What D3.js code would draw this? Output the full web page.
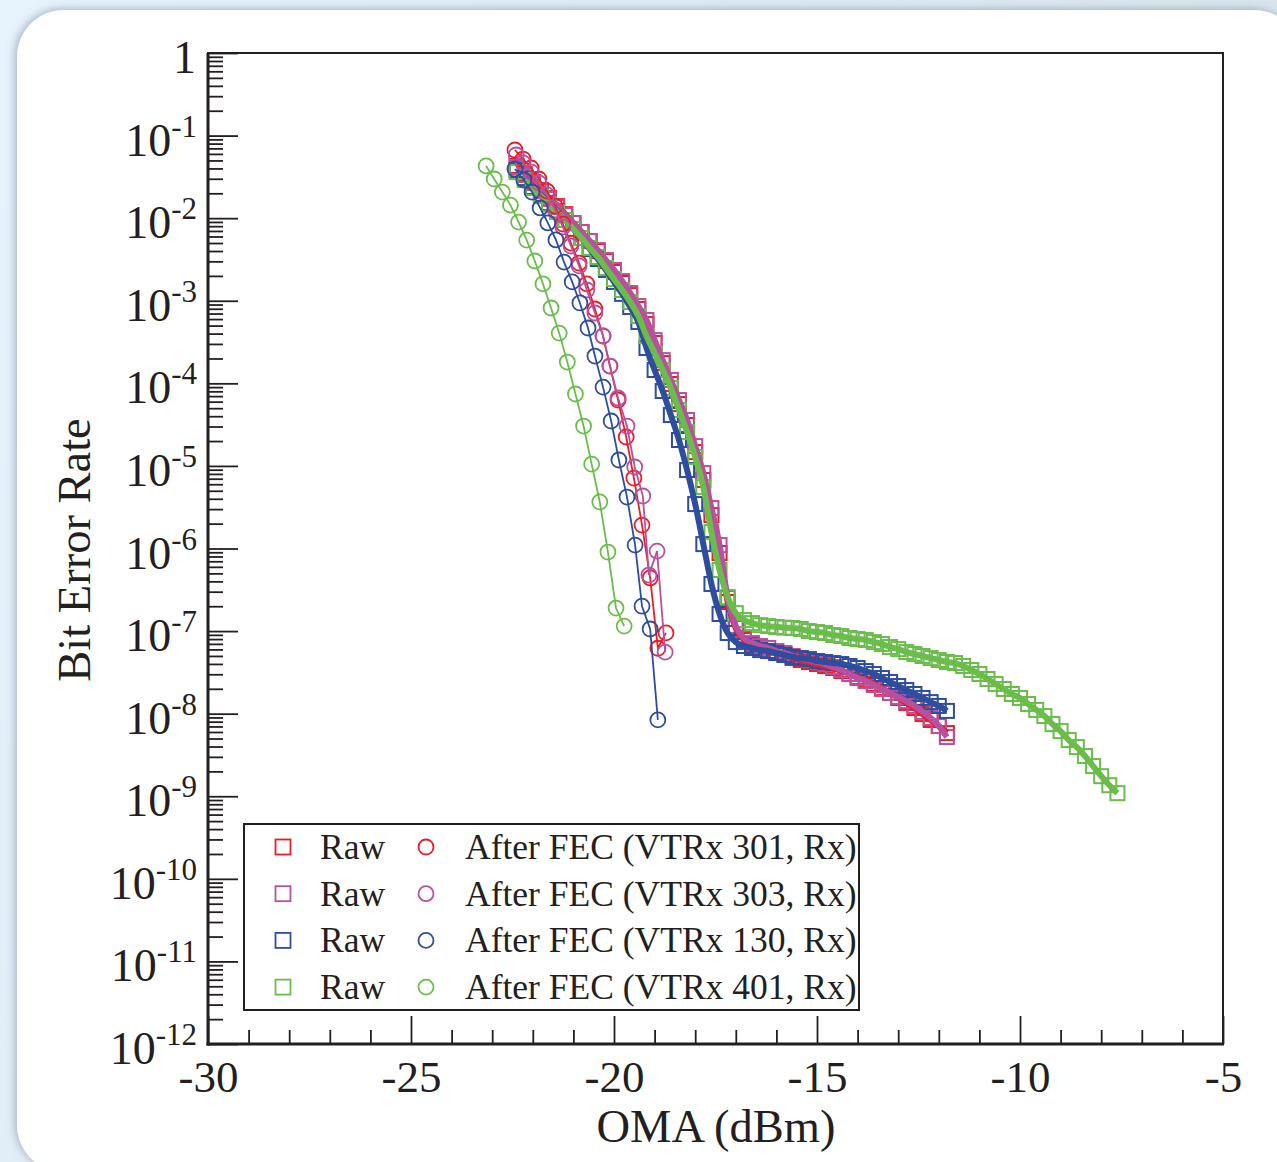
<!DOCTYPE html>
<html><head><meta charset="utf-8">
<script src="https://cdn.jsdelivr.net/npm/d3@7"></script>
<style>
html,body{margin:0;padding:0;background:#e3eef7;}
svg{display:block;font-family:"Liberation Serif","Times New Roman",serif;}
</style>
</head><body>
<svg id="chart" width="1277" height="1162"></svg>
<script>
// ---------------- data ----------------
const rawOMA = [-22.4,-22.2,-22.0,-21.8,-21.6,-21.4,-21.2,-21.0,-20.8,-20.6,-20.4,-20.2,-20.0,-19.8,-19.6,-19.4,-19.2,-19.0,-18.8,-18.6,-18.4,-18.2,-18.0,-17.8,-17.6,-17.4,-17.2,-17.0,-16.8,-16.6,-16.4,-16.2,-16.0,-15.8,-15.6,-15.4,-15.2,-15.0,-14.8,-14.6,-14.4,-14.2,-14.0,-13.8,-13.6,-13.4,-13.2,-13.0,-12.8,-12.6,-12.4,-12.2,-12.0,-11.8,-11.6,-11.4,-11.2,-11.0,-10.8,-10.6,-10.4,-10.2,-10.0,-9.8,-9.6,-9.4,-9.2,-9.0,-8.8,-8.6,-8.4,-8.2,-8.0,-7.8,-7.6];

const raw301 = [4.29e-2,3.43e-2,2.74e-2,2.19e-2,1.75e-2,1.40e-2,1.12e-2,8.73e-3,6.79e-3,5.28e-3,4.00e-3,3.03e-3,2.23e-3,1.64e-3,1.17e-3,7.94e-4,5.22e-4,3.08e-4,1.76e-4,9.82e-5,5.61e-5,3.13e-5,1.47e-5,6.75e-6,2.54e-6,8.81e-7,2.25e-7,1.09e-7,7.79e-8,6.78e-8,6.24e-8,5.73e-8,5.42e-8,5.13e-8,4.71e-8,4.46e-8,4.22e-8,3.99e-8,3.78e-8,3.57e-8,3.28e-8,3.02e-8,2.77e-8,2.55e-8,2.29e-8,2.04e-8,1.78e-8,1.55e-8,1.35e-8,1.17e-8,9.89e-9,8.38e-9,7.08e-9,5.82e-9];

const raw303 = [4.16e-2,3.33e-2,2.67e-2,2.13e-2,1.71e-2,1.36e-2,1.09e-2,8.73e-3,6.79e-3,5.28e-3,4.11e-3,3.11e-3,2.36e-3,1.73e-3,1.24e-3,8.63e-4,5.85e-4,3.34e-4,1.91e-4,1.10e-4,6.28e-5,3.60e-5,1.74e-5,8.20e-6,3.09e-6,1.10e-6,2.51e-7,1.15e-7,8.24e-8,7.16e-8,6.59e-8,6.24e-8,5.73e-8,5.42e-8,4.99e-8,4.71e-8,4.46e-8,4.22e-8,3.99e-8,3.67e-8,3.38e-8,3.02e-8,2.70e-8,2.48e-8,2.22e-8,1.99e-8,1.78e-8,1.59e-8,1.42e-8,1.24e-8,1.05e-8,8.85e-9,7.08e-9,5.21e-9];

const raw130 = [3.83e-2,3.06e-2,2.38e-2,1.91e-2,1.52e-2,1.22e-2,9.5e-3,7.4e-3,5.75e-3,4.23e-3,3.20e-3,2.36e-3,1.69e-3,1.21e-3,8.39e-4,5.52e-4,2.68e-4,1.45e-4,8.07e-5,4.13e-5,2.06e-5,8.91e-6,3.45e-6,1.13e-6,3.72e-7,1.61e-7,9.47e-8,7.36e-8,6.59e-8,6.24e-8,5.89e-8,5.73e-8,5.42e-8,5.13e-8,4.85e-8,4.71e-8,4.58e-8,4.34e-8,4.22e-8,4.10e-8,3.99e-8,3.78e-8,3.57e-8,3.28e-8,3.02e-8,2.70e-8,2.42e-8,2.16e-8,1.93e-8,1.73e-8,1.55e-8,1.38e-8,1.24e-8,1.08e-8];

const raw401 = [3.62e-2,2.90e-2,2.32e-2,1.85e-2,1.48e-2,1.19e-2,9.5e-3,7.4e-3,5.75e-3,4.36e-3,3.39e-3,2.49e-3,1.83e-3,1.35e-3,9.66e-4,6.53e-4,3.74e-4,2.33e-4,1.45e-4,8.77e-5,4.75e-5,2.57e-5,1.28e-5,5.55e-6,1.58e-6,5.48e-7,2.58e-7,1.65e-7,1.36e-7,1.25e-7,1.18e-7,1.15e-7,1.12e-7,1.10e-7,1.09e-7,1.06e-7,1.00e-7,9.73e-8,9.47e-8,8.95e-8,8.71e-8,8.24e-8,8.01e-8,7.79e-8,7.36e-8,6.97e-8,6.41e-8,6.05e-8,5.57e-8,5.27e-8,4.99e-8,4.71e-8,4.46e-8,4.22e-8,4.10e-8,3.78e-8,3.38e-8,3.02e-8,2.63e-8,2.29e-8,1.99e-8,1.73e-8,1.55e-8,1.31e-8,1.11e-8,9.35e-9,7.48e-9,6.15e-9,4.79e-9,3.94e-9,3.07e-9,2.32e-9,1.75e-9,1.36e-9,1.09e-9];

const fecOMA301 = [-22.44,-22.24,-22.04,-21.85,-21.65,-21.45,-21.26,-21.06,-20.86,-20.67,-20.47,-20.27,-20.10,-19.90,-19.70,-19.51,-19.31,-19.11,-18.92,-18.72];
const fec301 = [6.69e-2,5.20e-2,4.05e-2,2.98e-2,2.13e-2,1.40e-2,8.5e-3,5.0e-3,2.86e-3,1.60e-3,7.94e-4,3.74e-4,1.62e-4,6.28e-5,2.24e-5,7.13e-6,1.92e-6,4.4e-7,6.2e-8,9.5e-8];

const fecOMA303 = [-22.41,-22.24,-22.04,-21.85,-21.65,-21.45,-21.26,-21.06,-20.86,-20.67,-20.47,-20.27,-20.10,-19.90,-19.68,-19.49,-19.29,-19.14,-18.94,-18.74];
const fec303 = [5.82e-2,4.66e-2,3.62e-2,2.67e-2,1.91e-2,1.26e-2,7.82e-3,4.60e-3,2.64e-3,1.35e-3,7.11e-4,3.74e-4,1.62e-4,6.64e-5,3.04e-5,9.7e-6,4.32e-6,4.77e-7,9.3e-7,5.57e-8];

const fecOMA130 = [-22.44,-22.22,-22.02,-21.82,-21.63,-21.43,-21.23,-21.03,-20.84,-20.64,-20.47,-20.27,-20.07,-19.88,-19.68,-19.48,-19.31,-19.11,-18.92];
const fec130 = [3.94e-2,2.90e-2,2.07e-2,1.33e-2,8.75e-3,5.45e-3,2.94e-3,1.69e-3,9.4e-4,4.68e-4,2.14e-4,9.0e-5,3.5e-5,1.18e-5,4.2e-6,1.10e-6,2.0e-7,1.06e-7,8.4e-9];

const fecOMA401 = [-23.15,-22.95,-22.75,-22.55,-22.35,-22.15,-21.95,-21.75,-21.55,-21.35,-21.15,-20.95,-20.75,-20.55,-20.35,-20.15,-19.95,-19.75];
const fec401 = [4.29e-2,2.98e-2,2.07e-2,1.44e-2,8.97e-3,5.43e-3,3.03e-3,1.60e-3,8.17e-4,4.06e-4,1.81e-4,7.43e-5,3.04e-5,1.05e-5,3.66e-6,9.06e-7,1.90e-7,1.15e-7];

const xTickValues = [-30,-25,-20,-15,-10,-5];
const xMinorValues = [-29,-28,-27,-26,-24,-23,-22,-21,-19,-18,-17,-16,-14,-13,-12,-11,-9,-8,-7,-6];
const yExponents = [0,-1,-2,-3,-4,-5,-6,-7,-8,-9,-10,-11,-12];
const rawLabel = "Raw";
const fecLabels = ["After FEC (VTRx 301, Rx)","After FEC (VTRx 303, Rx)","After FEC (VTRx 130, Rx)","After FEC (VTRx 401, Rx)"];
const xTitle = "OMA (dBm)";
const yTitle = "Bit Error Rate";

// ---------------- styling ----------------
const COLORS = ["#ed1c24","#b9509f","#2e4d9e","#6abd4b"];
const INK = "#231f20";

const svg = d3.select("#chart");
const defs = svg.append("defs");
const bg = defs.append("linearGradient").attr("id","bg").attr("x1",0).attr("y1",0).attr("x2",1).attr("y2",0.3);
bg.append("stop").attr("offset","0%").attr("stop-color","#e6f2fc");
bg.append("stop").attr("offset","100%").attr("stop-color","#d8e4eb");
const f = defs.append("filter").attr("id","shadow").attr("x","-5%").attr("y","-5%").attr("width","110%").attr("height","110%");
f.append("feDropShadow").attr("dx",-2).attr("dy",-1).attr("stdDeviation",4).attr("flood-color","#6f8296").attr("flood-opacity",0.55);

svg.append("rect").attr("width",1277).attr("height",1162).attr("fill","url(#bg)");
svg.append("rect").attr("x",17).attr("y",10).attr("width",1284).attr("height",1162).attr("rx",47).attr("ry",47)
  .attr("fill","#ffffff").attr("filter","url(#shadow)");

// ---------------- scales ----------------
const x = d3.scaleLinear().domain([-30,-5]).range([208,1223]);
const y = d3.scaleLog().domain([1e-12,1]).range([1044,53]);

// ---------------- axes ----------------
const gx = svg.append("g").attr("transform","translate(0,1044)");
gx.call(d3.axisBottom(x).tickValues(xMinorValues).tickSize(-14).tickFormat(""));
gx.call(g=>g.select(".domain").remove());
const gxM = svg.append("g").attr("transform","translate(0,1044)");
gxM.call(d3.axisBottom(x).tickValues(xTickValues).tickSize(-28).tickFormat(d=>String(d)));
gxM.select(".domain").remove();
gxM.selectAll("text").attr("y",48).attr("dy",null).attr("font-size",45).attr("fill",INK)
  .attr("font-family","Liberation Serif");
[gx,gxM].forEach(g=>g.selectAll("line").attr("stroke",INK).attr("stroke-width",1.8));

const minorY = [];
yExponents.forEach(e=>{ if(e>-12){ for(let m=2;m<=9;m++) minorY.push(m*Math.pow(10,e-1)); } });
const gy = svg.append("g").attr("transform","translate(208,0)");
gy.call(d3.axisLeft(y).tickValues(minorY).tickSize(-15).tickFormat(""));
gy.select(".domain").remove();
const gyM = svg.append("g").attr("transform","translate(208,0)");
gyM.call(d3.axisLeft(y).tickValues(yExponents.map(e=>Math.pow(10,e))).tickSize(-30).tickFormat(""));
gyM.select(".domain").remove();
[gy,gyM].forEach(g=>g.selectAll("line").attr("stroke",INK).attr("stroke-width",1.8));

// y tick labels
const yl = svg.append("g").attr("fill",INK);
yExponents.forEach(e=>{
  const ty = y(Math.pow(10,e));
  if(e===0){
    yl.append("text").attr("x",196).attr("y",ty+20).attr("text-anchor","end").attr("font-size",46).text("1");
  } else {
    const t = yl.append("text").attr("x",197).attr("y",ty+20).attr("text-anchor","end");
    t.append("tspan").attr("font-size",46).text("10");
    t.append("tspan").attr("font-size",31).attr("dy",-19).text(String(e));
  }
});

// frame
svg.append("rect").attr("x",208).attr("y",53).attr("width",1015).attr("height",991)
  .attr("fill","none").attr("stroke",INK).attr("stroke-width",2);
svg.append("line").attr("x1",208).attr("x2",208).attr("y1",53).attr("y2",1045.5).attr("stroke",INK).attr("stroke-width",3);
svg.append("line").attr("x1",206.5).attr("x2",1224).attr("y1",1044).attr("y2",1044).attr("stroke",INK).attr("stroke-width",3);

// titles
svg.append("text").attr("x",716).attr("y",1142).attr("text-anchor","middle").attr("font-size",46.5).attr("fill",INK).text(xTitle);
svg.append("text").attr("transform","translate(90,550) rotate(-90)").attr("text-anchor","middle").attr("font-size",46.5).attr("fill",INK).text(yTitle);

// ---------------- series ----------------
const rawSeries = [raw301, raw303, raw130, raw401].map((vals,k)=>({color:COLORS[k], pts: vals.map((v,i)=>[rawOMA[i],v])}));
const fecSeries = [[fecOMA301,fec301],[fecOMA303,fec303],[fecOMA130,fec130],[fecOMA401,fec401]]
  .map(([xs,vs],k)=>({color:COLORS[k], pts: vs.map((v,i)=>[xs[i],v])}));

const plot = svg.append("g");
const lineSmooth = d3.line().x(d=>x(d[0])).y(d=>y(d[1])).curve(d3.curveMonotoneX);
const lineStraight = d3.line().x(d=>x(d[0])).y(d=>y(d[1]));
const SQ = 14;

rawSeries.forEach(s=>{
  plot.append("g").selectAll("rect").data(s.pts).join("rect")
    .attr("x",d=>x(d[0])-SQ/2).attr("y",d=>y(d[1])-SQ/2).attr("width",SQ).attr("height",SQ)
    .attr("fill","none").attr("stroke",s.color).attr("stroke-width",2);
});
rawSeries.forEach(s=>{
  plot.append("path").datum(s.pts.slice(1)).attr("d",lineSmooth).attr("fill","none")
    .attr("stroke",s.color).attr("stroke-width",6).attr("stroke-linejoin","round");
});
fecSeries.forEach(s=>{
  plot.append("path").datum(s.pts).attr("d",lineStraight).attr("fill","none")
    .attr("stroke",s.color).attr("stroke-width",1.8);
  plot.append("g").selectAll("circle").data(s.pts).join("circle")
    .attr("cx",d=>x(d[0])).attr("cy",d=>y(d[1])).attr("r",7.5)
    .attr("fill","none").attr("stroke",s.color).attr("stroke-width",1.8);
});

// ---------------- legend ----------------
const lg = svg.append("g");
lg.append("rect").attr("x",244).attr("y",824).attr("width",615).attr("height",186)
  .attr("fill","#ffffff").attr("stroke",INK).attr("stroke-width",2);
fecLabels.forEach((lab,k)=>{
  const cy = 847 + k*46.7;
  lg.append("rect").attr("x",283-7.5).attr("y",cy-7.5).attr("width",15).attr("height",15)
    .attr("fill","none").attr("stroke",COLORS[k]).attr("stroke-width",1.8);
  lg.append("text").attr("x",320).attr("y",cy+12).attr("font-size",35.5).attr("fill",INK).text(rawLabel);
  lg.append("circle").attr("cx",426).attr("cy",cy).attr("r",7.5)
    .attr("fill","none").attr("stroke",COLORS[k]).attr("stroke-width",1.8);
  lg.append("text").attr("x",465).attr("y",cy+12).attr("font-size",35.5).attr("fill",INK).text(lab);
});
</script>
</body></html>
